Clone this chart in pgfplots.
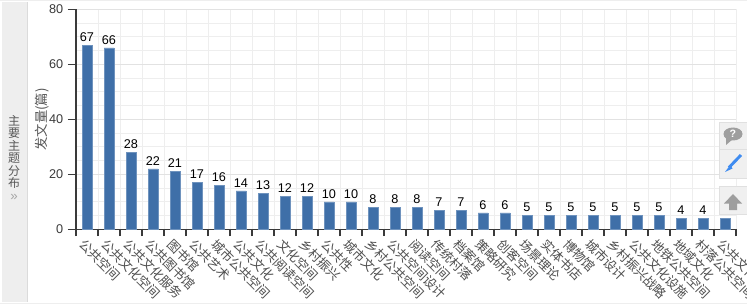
\documentclass[border=0pt]{standalone}
\usepackage{pgfplots}
\pgfplotsset{compat=1.18}
\usepackage{fontspec}
\setmainfont{Liberation Sans}
\newfontfamily\cjk{Noto Sans CJK SC}
\definecolor{barblue}{HTML}{3F6FA8}
\definecolor{gridc}{HTML}{EEEEEE}
\definecolor{axc}{HTML}{3A3A3A}
\definecolor{panel}{HTML}{EEEEEE}
\definecolor{penc}{HTML}{3F8CF0}
\begin{document}
\begin{tikzpicture}[x=0.75pt,y=0.75pt]
\path[use as bounding box,fill=white] (0,0) rectangle (747,304);
\fill[gridc] (0,303) rectangle (747,304);
\fill[gridc] (0,0) rectangle (747,1.5);
\fill[panel] (2,2) rectangle (27,302);
\fill[black!14] (27,2) rectangle (28,302);
\begin{axis}[
 at={(57pt,56pt)},anchor=south west,scale only axis,
 width=495pt,height=165pt,
 xmin=0.5,xmax=30.5,ymin=0,ymax=80,
 axis x line*=bottom,axis y line*=left,
 axis line style={axc,line width=0.8pt,-},
 xtick={1,...,30},
 minor xtick={0.5,1.5,...,30.5},
 major x tick style={draw=none},
 minor x tick style={axc,line width=0.8pt},
 x tick label style={font=\cjk\fontsize{9.6pt}{10pt}\selectfont,rotate=-45,anchor=west,inner sep=0pt,xshift=-0.4pt,yshift=-5pt,text=axc!90!white},
 xticklabels={公共空间,公共文化空间,公共文化服务,公共图书馆,图书馆,公共艺术,城市公共空间,公共文化,公共阅读空间,文化空间,乡村振兴,公共性,城市文化,乡村公共空间,公共空间设计,阅读空间,传统村落,档案馆,策略研究,创客空间,场景理论,实体书店,博物馆,城市设计,乡村振兴战略,公共文化设施,地铁公共空间,地域文化,村落公共空间,公共文化},
 ytick={0,20,40,60,80},
 minor y tick num=3,
 minor y tick style={draw=none},
 y tick label style={font=\fontsize{9.5pt}{9.5pt}\selectfont,text=axc},
 /pgf/number format/assume math mode=true,
 major y tick style={axc,line width=0.8pt},
 major tick length=6pt,
 minor tick length=5pt,
 tick align=outside,
 xminorgrids=true,xmajorgrids=false,ymajorgrids=true,yminorgrids=true,
 major grid style={gridc!95!black,line width=0.8pt},
 minor grid style={gridc,line width=0.7pt},
 ylabel={\cjk 发文量(篇)},
 ylabel style={font=\fontsize{10pt}{10pt}\selectfont,text=axc!85!white,at={(axis description cs:-0.033,0.5)},anchor=south},
 clip=false,
 ybar,bar width=7.5pt,
 nodes near coords,
 every node near coord/.append style={font=\fontsize{9.5pt}{9.5pt}\selectfont,text=black,inner sep=2.5pt},
]
\addplot[fill=barblue,draw=barblue!75!white,line width=0.5pt] coordinates {
(1,67)(2,66)(3,28)(4,22)(5,21)(6,17)(7,16)(8,14)(9,13)(10,12)
(11,12)(12,10)(13,10)(14,8)(15,8)(16,8)(17,7)(18,7)(19,6)(20,6)
(21,5)(22,5)(23,5)(24,5)(25,5)(26,5)(27,5)(28,4)(29,4)(30,4)};
\end{axis}
\node[text=axc!85!white,font=\cjk\fontsize{9pt}{9.3pt}\selectfont,align=center,inner sep=0pt] at (14,152) {主\\要\\主\\题\\分\\布};
\node[text=black!35,font=\fontsize{10pt}{10pt}\selectfont,inner sep=0pt] at (14,107) {»};
% side widgets
\filldraw[fill=black!6,draw=black!12,line width=0.5pt] (719,182) rectangle (748,155);
\filldraw[fill=black!6,draw=black!12,line width=0.5pt] (719,155) rectangle (748,126);
\filldraw[fill=black!6,draw=black!12,line width=0.5pt] (719,118) rectangle (748,90);
\fill[black!38] (733,170) ellipse [x radius=9.5,y radius=6.5];
\fill[black!38] (726,166) -- (726,159) -- (733,165) -- cycle;
\node[text=white,font=\bfseries\fontsize{8pt}{8pt}\selectfont,inner sep=0pt] at (733,170) {?};
\draw[penc,line width=2.2pt] (729,136.5) -- (741,149);
\fill[penc] (730.2,139) -- (725,132) -- (732.5,135.5) -- cycle;
\fill[black!38] (733,110) -- (742,100.5) -- (737,100.5) -- (737,94) -- (729,94) -- (729,100.5) -- (724,100.5) -- cycle;
\end{tikzpicture}
\end{document}
